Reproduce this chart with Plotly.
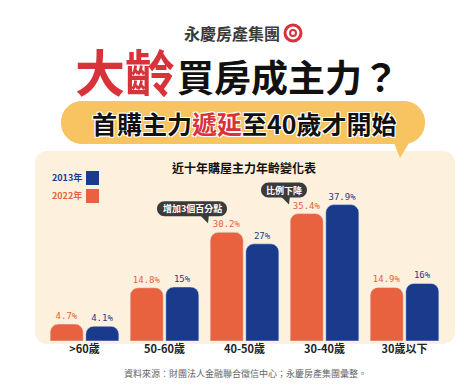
import plotly.graph_objects as go

# ---- data ----
categories = [">60歲", "50-60歲", "40-50歲", "30-40歲", "30歲以下"]
values_2022 = [4.7, 14.8, 30.2, 35.4, 14.9]
values_2013 = [4.1, 15, 27, 37.9, 16]
labels_2022 = ["4.7%", "14.8%", "30.2%", "35.4%", "14.9%"]
labels_2013 = ["4.1%", "15%", "27%", "37.9%", "16%"]
series_names = ["2022年", "2013年"]

W, H = 474, 385
ORANGE = "#E8623F"
BLUE = "#1A3A8C"
RED = "#D8333A"
CJK = "Noto Sans CJK TC"
Y_MAX = 52.8
PLOT_TOP, PLOT_BOTTOM = 143, 333
K = (PLOT_BOTTOM - PLOT_TOP) / Y_MAX  # pixels per percent


def px(x):
    return x / W


def py(y):
    return 1 - y / H


def rrect(x0, y0, x1, y1, r):
    k = 0.45 * r
    pts = [
        f"M{px(x0 + r)},{py(y0)}",
        f"L{px(x1 - r)},{py(y0)}",
        f"C{px(x1 - k)},{py(y0)} {px(x1)},{py(y0 + k)} {px(x1)},{py(y0 + r)}",
        f"L{px(x1)},{py(y1 - r)}",
        f"C{px(x1)},{py(y1 - k)} {px(x1 - k)},{py(y1)} {px(x1 - r)},{py(y1)}",
        f"L{px(x0 + r)},{py(y1)}",
        f"C{px(x0 + k)},{py(y1)} {px(x0)},{py(y1 - k)} {px(x0)},{py(y1 - r)}",
        f"L{px(x0)},{py(y0 + r)}",
        f"C{px(x0)},{py(y0 + k)} {px(x0 + k)},{py(y0)} {px(x0 + r)},{py(y0)}",
        "Z",
    ]
    return " ".join(pts)


def tri(a, b, c):
    return f"M{px(a[0])},{py(a[1])} L{px(b[0])},{py(b[1])} L{px(c[0])},{py(c[1])} Z"


fig = go.Figure()
fig.add_trace(go.Bar(
    x=categories, y=values_2022, name=series_names[0],
    marker=dict(color=ORANGE, cornerradius=8),
    text=labels_2022, textposition="outside",
    textfont=dict(color=ORANGE, size=9, family="DejaVu Sans Mono"),
    cliponaxis=False,
))
fig.add_trace(go.Bar(
    x=categories, y=values_2013, name=series_names[1],
    marker=dict(color=BLUE, cornerradius=8),
    text=labels_2013, textposition="outside",
    textfont=dict(color=BLUE, size=9, family="DejaVu Sans Mono"),
    cliponaxis=False,
))

shapes = []
shapes.append(dict(type="path", path=rrect(27, 143, 447, 336, 12),
                   xref="paper", yref="paper", fillcolor="#FDF0DC",
                   line=dict(width=0), layer="below"))
shapes.append(dict(type="path", path=rrect(53, 93, 417, 136, 21),
                   xref="paper", yref="paper", fillcolor="#F8C462",
                   line=dict(width=0), layer="below"))
shapes.append(dict(type="path", path=tri((384, 130), (404, 130), (392, 150)),
                   xref="paper", yref="paper", fillcolor="#F8C462",
                   line=dict(width=0), layer="below"))

BUB = "#3B3B3B"


def bubble(cx, width, value, tail_x):
    top_bar = PLOT_BOTTOM - value * K
    y1 = top_bar - 16
    y0 = y1 - 15
    shapes.append(dict(type="path", path=rrect(cx - width / 2, y0, cx + width / 2, y1, 7.5),
                       xref="paper", yref="paper", fillcolor=BUB, line=dict(width=0)))
    shapes.append(dict(type="path",
                       path=tri((tail_x - 6, y1 - 2), (tail_x + 4, y1 - 2), (tail_x + 3, y1 + 7)),
                       xref="paper", yref="paper", fillcolor=BUB, line=dict(width=0)))
    return (y0 + y1) / 2


yb1 = bubble(184, 70, values_2022[2], 197)
yb2 = bubble(276, 46, values_2022[3], 278)

shapes.append(dict(type="rect", x0=px(78), x1=px(91), y0=py(163), y1=py(177),
                   xref="paper", yref="paper", fillcolor=BLUE, line=dict(width=0)))
shapes.append(dict(type="rect", x0=px(78), x1=px(91), y0=py(181), y1=py(195),
                   xref="paper", yref="paper", fillcolor=ORANGE, line=dict(width=0)))
shapes.append(dict(type="circle", x0=px(277), x1=px(293), y0=py(17), y1=py(33),
                   xref="paper", yref="paper", fillcolor="white",
                   line=dict(color=RED, width=3)))
shapes.append(dict(type="circle", x0=px(282), x1=px(288), y0=py(22), y1=py(28),
                   xref="paper", yref="paper", fillcolor="white",
                   line=dict(color=RED, width=2)))

ann = []
OUTLINE = "-1px -1px 0 #fff, 1px -1px 0 #fff, -1px 1px 0 #fff, 1px 1px 0 #fff"


def text(x, y, s, size, color="#1a1a1a", family=CJK, xanchor="center", shadow=None):
    f = dict(size=size, color=color, family=family)
    if shadow:
        f["shadow"] = shadow
    ann.append(dict(x=px(x), y=py(y), xref="paper", yref="paper", text=s,
                    showarrow=False, xanchor=xanchor, yanchor="middle", font=f,
                    borderpad=0))


text(224, 25, "<b>永慶房產集團</b>", 16, "#3a3a3a")
text(168, 62, "<b>大齡</b>", 50, RED, xanchor="right", shadow=OUTLINE)
text(168, 68, "<b>買房成主力？</b>", 37, "#111111", xanchor="left", shadow=OUTLINE)
text(236, 115,
     f"<b>首購主力<span style='color:{RED}'>遞延</span>至40歲才開始</b>",
     25, "#111111", shadow=OUTLINE)
text(236, 159, "<b>近十年購屋主力年齡變化表</b>", 12, "#111111")
text(75, 170, "<b>2013年</b>", 9, BLUE, xanchor="right")
text(75, 188, "<b>2022年</b>", 9, ORANGE, xanchor="right")
text(184, yb1, "<b>增加3個百分點</b>", 9, "white")
text(276, yb2, "<b>比例下降</b>", 9, "white")
text(237, 365, "資料來源：財團法人金融聯合徵信中心；永慶房產集團彙整。", 9, "#666666")

fig.update_layout(
    width=W, height=H,
    margin=dict(l=0, r=0, t=0, b=0),
    paper_bgcolor="white", plot_bgcolor="rgba(0,0,0,0)",
    showlegend=False,
    barmode="group", bargap=0.11, bargroupgap=0.07,
    shapes=shapes, annotations=ann,
    font=dict(family=CJK),
    xaxis=dict(domain=[px(36.5), px(436.5)], showgrid=False, showline=False,
               zeroline=False, ticks="",
               tickfont=dict(size=11, color="#222222", family=CJK, weight="bold")),
    yaxis=dict(domain=[py(PLOT_BOTTOM), py(PLOT_TOP)], range=[0, Y_MAX], visible=False),
)
fig.write_html("out.html")
